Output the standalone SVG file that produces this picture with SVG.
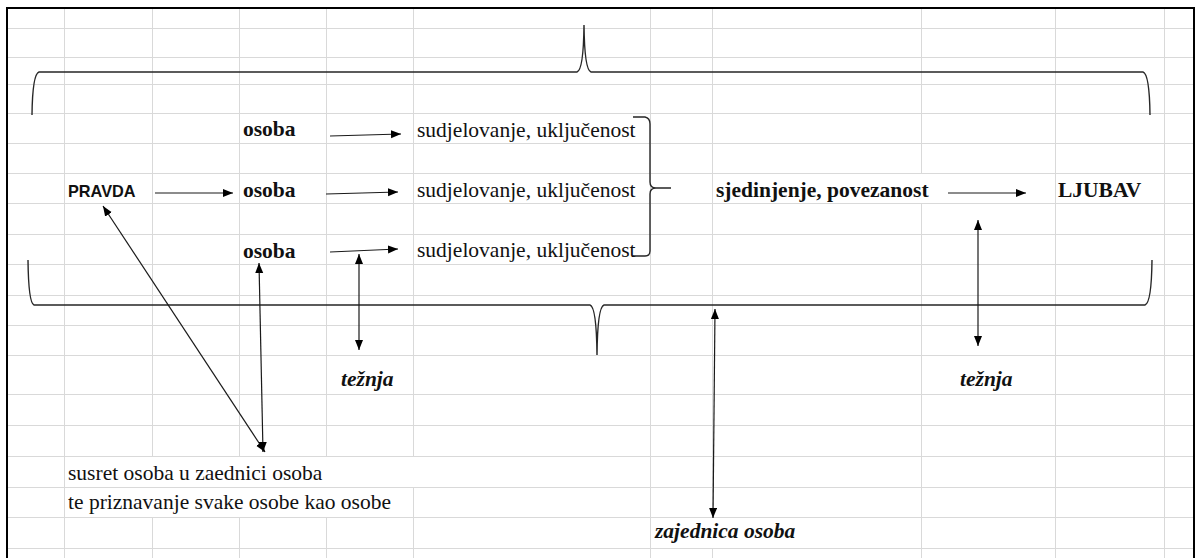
<svg xmlns="http://www.w3.org/2000/svg" width="1195" height="558" viewBox="0 0 1195 558">
<style>
.g{stroke:#d9d9d9;stroke-width:1;fill:none}
.b{stroke:#000;stroke-width:2;fill:none}
.br{stroke:#262626;stroke-width:1.4;fill:none}
.c{stroke:#1a1a1a;stroke-width:1.2;fill:none}
.ar{marker-end:url(#ah)}
.da{marker-start:url(#ah);marker-end:url(#ah)}
.t{font-family:"Liberation Serif","Times New Roman",serif;font-size:21.5px;fill:#111}
.bd{font-weight:bold}
.it{font-style:italic}
.s{font-family:"Liberation Sans",Arial,sans-serif;font-weight:bold;font-size:16.3px;fill:#111}
</style>
<defs>
<marker id="ah" markerUnits="userSpaceOnUse" markerWidth="11" markerHeight="9" refX="10" refY="4" orient="auto-start-reverse" viewBox="0 0 11 9">
<path d="M0,0 L10,4 L0,8 z" fill="#000"/>
</marker>
</defs>
<rect x="0" y="0" width="1195" height="558" fill="#fff"/>
<g id="grid" class="g">
<path d="M7,28.5H1194M7,57.5H1194M7,84.5H1194M7,113.5H1194M7,143.5H1194M7,173.5H1194M7,203.5H1194M7,234.5H1194M7,264.5H1194M7,295.5H1194M7,325.5H1194M7,355.5H1194M7,394.5H1194M7,425.5H1194M7,456.5H1194M7,487.5H1194M7,517.5H1194M7,548.5H1194"/>
<path d="M64.5,8V558M650.5,8V558M1055.5,8V558M1164.5,8V558"/>
<path d="M152.5,8V456M152.5,517V558M239.5,8V456M239.5,517V558M326.5,8V456M326.5,517V558M413.5,8V456M413.5,487V558M921.5,8V173M921.5,203V558M712.5,8V517M712.5,548V558"/>
</g>
<g id="border" class="b">
<path d="M7,558V8H1194V558"/>
</g>
<g id="braces" class="br">
<path id="brace-top" d="M32,115 Q32.5,74 39,72 L577,72 Q583.5,70 584,25 Q584.5,70 591,72 L1143,72 Q1149.5,74 1150,115"/>
<path id="brace-bottom" d="M28,260 Q28.5,303 34,305 L590,305 Q596.5,307 597,355 Q597.5,307 604,305 L1145,305 Q1151.5,303 1152,260"/>
<path id="brace-small" d="M633,117 L645,117 Q650,118 650,124 L650,182 Q650,188 656,188 L671,188 L656,188 Q650,188 650,194 L650,251 Q650,256 645,256 L633,256"/>
</g>
<g id="nodes">
<g id="pravda"><text class="s" x="68" y="197">PRAVDA</text></g>
<g id="osoba1"><text class="t bd" x="243" y="136">osoba</text></g>
<g id="osoba2"><text class="t bd" x="243" y="197">osoba</text></g>
<g id="osoba3"><text class="t bd" x="243" y="258">osoba</text></g>
<g id="sud1"><text class="t" x="417" y="137">sudjelovanje, uključenost</text></g>
<g id="sud2"><text class="t" x="417" y="197">sudjelovanje, uključenost</text></g>
<g id="sud3"><text class="t" x="417" y="257">sudjelovanje, uključenost</text></g>
<g id="sjedinjenje"><text class="t bd" x="716" y="197">sjedinjenje, povezanost</text></g>
<g id="ljubav"><text class="t bd" x="1058" y="197">LJUBAV</text></g>
<g id="teznja1"><text class="t bd it" x="341" y="386">težnja</text></g>
<g id="teznja2"><text class="t bd it" x="960" y="386">težnja</text></g>
<g id="zajednica"><text class="t bd it" x="655" y="538">zajednica osoba</text></g>
<g id="susret"><text class="t" x="68" y="480">susret osoba u zaednici osoba</text><text class="t" x="68" y="509">te priznavanje svake osobe kao osobe</text></g>
</g>
<g id="connectors" class="c">
<line class="ar" x1="330" y1="136" x2="401" y2="134"/>
<line class="ar" x1="155" y1="193" x2="233" y2="193"/>
<line class="ar" x1="326" y1="194" x2="398" y2="192"/>
<line class="ar" x1="330" y1="252" x2="398" y2="249"/>
<line class="ar" x1="948" y1="193" x2="1026" y2="193"/>
<line class="da" x1="103" y1="206" x2="265" y2="452"/>
<line class="da" x1="259" y1="263" x2="263" y2="452"/>
<line class="da" x1="359" y1="254" x2="359" y2="350"/>
<line class="da" x1="978" y1="220" x2="978" y2="346"/>
<line class="da" x1="715" y1="309" x2="713" y2="518"/>
</g>
</svg>
